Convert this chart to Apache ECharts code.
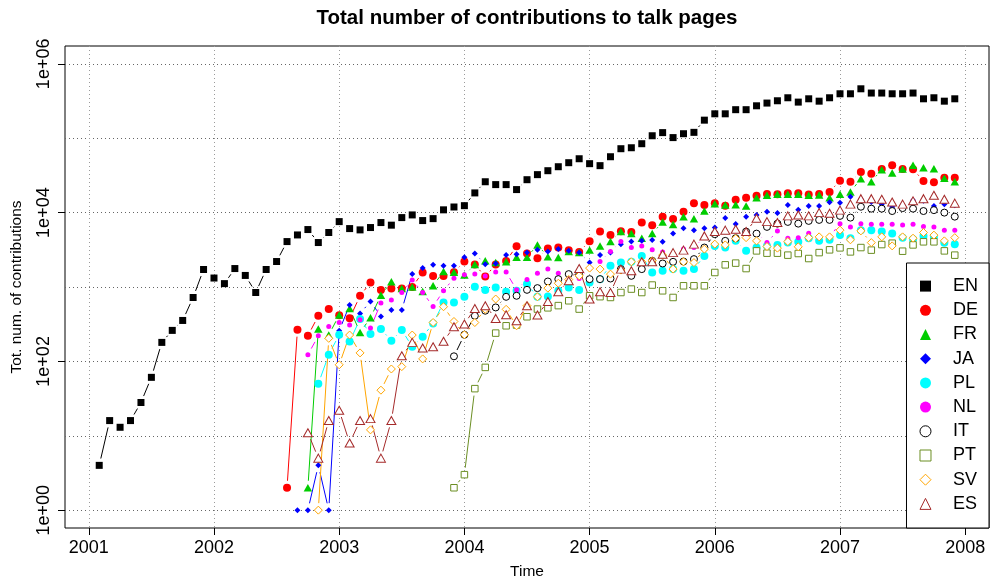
<!DOCTYPE html>
<html>
<head>
<meta charset="utf-8">
<script src="https://cdn.jsdelivr.net/npm/echarts@6/dist/echarts.min.js"></script>
<style>
  html, body { margin: 0; padding: 0; background: #fff; }
  #chart { width: 990px; height: 584px; }
</style>
</head>
<body>
<div id="chart"></div>
<script>
// tick positions
const yearTicks = [2001, 2002, 2003, 2004, 2005, 2006, 2007, 2008]
const decadeTicks = [1, 10, 100, 1e3, 1e4, 1e5, 1e6]
const labelTicks = [1, 100, 1e4, 1e6]

// one entry per language, in plotting order
const languages = ['EN', 'DE', 'FR', 'JA', 'PL', 'NL', 'IT', 'PT', 'SV', 'ES']
const startMonths = ['2001-02', '2002-08', '2002-10', '2002-09', '2002-11', '2002-10', '2003-12', '2003-12', '2002-11', '2002-10']

// monthly totals
const enValues = [4, 16, 13, 16, 28, 61, 180, 261, 355, 723,
  1720, 1320, 1110, 1770, 1430, 844, 1720, 2200, 4080, 5010,
  5920, 3960, 5400, 7570, 6100, 5860, 6300, 7350, 6780, 8570,
  9310, 7820, 8300, 10900, 11900, 12400, 18400, 26000, 23800, 23800,
  20400, 27700, 32400, 36600, 41400, 46900, 53000, 45500, 42800, 56400,
  72300, 74500, 84400, 108000, 119000, 102000, 115000, 120000, 175000, 213000,
  213000, 242000, 242000, 273000, 297000, 319000, 350000, 306000, 339000, 315000,
  350000, 396000, 396000, 462000, 405000, 405000, 396000, 396000, 405000, 339000,
  350000, 315000, 339000]
const deValues = [2, 267, 221, 410, 505, 417, 380, 760, 1150, 912,
  955, 955, 1000, 1570, 1410, 1410, 1580, 2200, 2000, 1380,
  2000, 2240, 3540, 2820, 2440, 3290, 3390, 3130, 2960, 4130,
  5560, 5010, 5620, 5500, 7350, 6780, 8830, 8220, 10300, 13400,
  12700, 13400, 12400, 14900, 15900, 16900, 17800, 17700, 18200, 18200,
  17500, 17800, 19000, 26900, 26100, 35200, 33400, 38600, 43300, 38600,
  38200, 26700, 25600, 29500, 29500]
const frValues = [2, 272, 226, 420, 514, 245, 385, 776, 1175, 955,
  1000, 871, 1040, 1620, 1580, 1445, 2000, 2250, 2140, 2180,
  2510, 2520, 3680, 2560, 2490, 3000, 2900, 3150, 3550, 4080,
  5560, 5220, 4530, 5220, 7500, 6900, 8830, 8300, 10500, 13200,
  12700, 12800, 12300, 15900, 17100, 17700, 17700, 17700, 17100, 17300,
  15900, 17700, 19000, 28600, 26100, 37800, 34100, 38600, 43300, 40200,
  39000, 29000, 26100]
const jaValues = [1, 1, 4, 1, 258, 571, 441, 638, 402, 490,
  490, 1490, 1795, 1990, 1930, 1930, 2510, 2820, 2030, 2070,
  2700, 2760, 2900, 3160, 3000, 3230, 3060, 2900, 2130, 2700,
  2900, 3770, 4080, 4170, 4270, 4050, 5220, 6170, 5810, 6170,
  6310, 8490, 7050, 8830, 9310, 10300, 9910, 12700, 10900, 12300,
  12300, 13800, 13600, 16400, 15100, 13900, 13000, 11900, 12600, 14700,
  14400, 12300, 13000, 12600]
const plValues = [50, 123, 228, 185, 371, 233, 272, 190, 264, 157,
  215, 324, 619, 619, 738, 1007, 908, 984, 863, 889,
  1094, 738, 745, 889, 984, 908, 1148, 1276, 1930, 2130,
  2180, 2620, 1570, 1650, 1740, 1650, 1740, 2620, 3570, 3390,
  4170, 3060, 3390, 3570, 3680, 3950, 4050, 4530, 4170, 4310,
  5010, 4530, 5810, 5810, 5560, 5220, 4610, 4400, 4860, 4720,
  3920, 3770]
const nlValues = [123, 221, 295, 333, 309, 363, 281, 608, 667, 843,
  1240, 843, 547, 891, 1315, 1460, 1490, 1410, 1585, 1585,
  916, 1260, 1535, 1740, 1535, 1343, 1300, 1780, 2200, 3000,
  4080, 3390, 3570, 3160, 2960, 2760, 3230, 3390, 4720, 5400,
  4170, 5680, 5220, 5370, 3950, 5680, 4530, 4610, 5280, 4610,
  4760, 7110, 6430, 7110, 6980, 6980, 6980, 6840, 6980, 6490,
  6430, 5810, 5810]
const itValues = [117, 228, 410, 480, 531, 738, 762, 916, 966, 1186,
  1276, 1490, 1460, 1276, 1276, 1300, 1740, 1413, 1740, 2250,
  2070, 2180, 2200, 2370, 3390, 5130, 4170, 4530, 5560, 5220,
  6430, 7110, 7500, 7110, 7740, 7980, 7980, 9040, 8570, 12000,
  11300, 11300, 10500, 11500, 11300, 10500, 10800, 10000, 8830]
const ptValues = [2, 3, 43, 83, 240, 301, 308, 398, 505, 525,
  562, 653, 505, 762, 741, 723, 843, 938, 843, 1062,
  889, 723, 1038, 1038, 1038, 1567, 1986, 2094, 1770, 3060,
  2850, 2850, 2680, 2820, 2415, 2900, 3160, 3360, 2965, 3390,
  3130, 3720, 3880, 3030, 3680, 4050, 4050, 3060, 2680]
const svValues = [1, 204, 90, 226, 130, 12, 41, 79, 85, 226,
  108, 333, 543, 344, 228, 333, 501, 689, 501, 301,
  560, 738, 966, 1122, 1260, 1413, 1795, 1740, 1490, 1690,
  2180, 2180, 2250, 2680, 1740, 2180, 2130, 3230, 3770, 3680,
  4480, 4610, 4170, 3500, 3330, 4080, 3470, 4610, 4720, 4720,
  5810, 4310, 5680, 3950, 4720, 3570, 4720, 4530, 5400, 4980,
  4170, 4610]
const esValues = [11, 5, 16, 22, 8, 16, 17, 5, 16, 119,
  180, 151, 157, 186, 292, 318, 514, 560, 378, 424,
  352, 560, 420, 638, 863, 1211, 1770, 689, 863, 843,
  1740, 1650, 2180, 2180, 2760, 2900, 3130, 3770, 4860, 5560,
  5810, 5980, 5560, 8410, 7570, 7350, 9040, 9310, 9040, 10000,
  9820, 10800, 13000, 15400, 15400, 15100, 13900, 13000, 14400, 15400,
  17100, 15100, 13400]

const allValues = [enValues, deValues, frValues, jaValues, plValues, nlValues, itValues, ptValues, svValues, esValues]

// marker styles (R-like pch)
const colors = ['#000000', '#ff0000', '#00cd00', '#0000ff', '#00ffff', '#ff00ff', '#000000', '#6b8e23', '#ffa500', '#a52a2a']
const symbols = ['rect', 'circle', 'triangle', 'diamond', 'circle', 'circle', 'circle', 'rect', 'diamond', 'triangle']
const symbolSizes = [7, 8, [8.5, 7.5], 6, 8, 5, 7, 6.5, 8, [9, 8]]
const hollow = [false, false, false, false, false, false, true, true, true, true]

// type="b": connecting lines stop this many px short of each point
const pointGap = 7

const font = 'Liberation Sans, Arial, Helvetica, sans-serif'

function toPoints(start, values) {
  const [y, m] = start.split('-').map(Number)
  return values.map((v, i) => [y + (m - 1 + i) / 12, v])
}

function toPairs(points) {
  return points.slice(1).map((p, i) => [points[i][0], points[i][1], p[0], p[1]])
}

function markerStyle(i) {
  return hollow[i]
    ? { color: '#fff', borderColor: colors[i], borderWidth: 1, opacity: 1 }
    : { color: colors[i], opacity: 1 }
}

function segmentRenderer(color) {
  return function (params, api) {
    const a = api.coord([api.value(0), api.value(1)])
    const b = api.coord([api.value(2), api.value(3)])
    const dx = b[0] - a[0]
    const dy = b[1] - a[1]
    const len = Math.hypot(dx, dy)
    if (len <= 2 * pointGap) return null
    const k = pointGap / len
    return {
      type: 'line',
      silent: true,
      shape: { x1: a[0] + k * dx, y1: a[1] + k * dy, x2: b[0] - k * dx, y2: b[1] - k * dy },
      style: { stroke: color, lineWidth: 1 }
    }
  }
}

const chart = echarts.init(document.getElementById('chart'))

const series = []
languages.forEach((name, i) => {
  const points = toPoints(startMonths[i], allValues[i])
  series.push({
    name: name + ' line',
    type: 'custom',
    data: toPairs(points),
    encode: { x: [0, 2], y: [1, 3] },
    renderItem: segmentRenderer(colors[i]),
    silent: true,
    animation: false
  })
  series.push({
    name,
    type: 'scatter',
    data: points,
    symbol: symbols[i],
    symbolSize: symbolSizes[i],
    itemStyle: markerStyle(i),
    emphasis: { disabled: true },
    animation: false
  })
})

chart.setOption({
  animation: false,
  textStyle: { fontFamily: font },
  title: {
    text: 'Total number of contributions to talk pages',
    left: 527,
    top: 8,
    padding: 0,
    textAlign: 'center',
    textStyle: { fontSize: 20.5, fontWeight: 'bold', color: '#000', fontFamily: font }
  },
  grid: {
    left: 65,
    right: 1,
    top: 46,
    bottom: 56,
    show: true,
    borderColor: '#000',
    borderWidth: 1,
    outerBoundsMode: 'none'
  },
  legend: {
    orient: 'vertical',
    right: 1,
    bottom: 56,
    data: languages.map((name, i) => ({ name, icon: symbols[i], itemStyle: markerStyle(i) })),
    itemWidth: 11,
    itemHeight: 11,
    itemGap: 0,
    padding: [11, 11, 12, 13],
    borderColor: '#000',
    borderWidth: 1,
    borderRadius: 0,
    backgroundColor: '#fff',
    selectedMode: false,
    textStyle: { fontSize: 18, color: '#000', lineHeight: 24.2, padding: [0, 0, 0, 17], fontFamily: font }
  },
  xAxis: {
    type: 'value',
    min: 2000.81,
    max: 2008.19,
    name: 'Time',
    nameLocation: 'middle',
    nameGap: 36,
    nameTextStyle: { fontSize: 15.5, color: '#000', fontFamily: font },
    axisLine: { show: false },
    axisTick: { show: true, length: 7, customValues: yearTicks, lineStyle: { color: '#000' } },
    axisLabel: { customValues: yearTicks, fontSize: 18, color: '#000', margin: 11, formatter: v => String(v) },
    splitLine: { show: true, lineStyle: { type: [1, 3], color: '#9a9a9a', width: 1 } }
  },
  yAxis: [
    {
      type: 'log',
      logBase: 10,
      min: 0.5754,
      max: 1737800,
      name: 'Tot. num. of contributions',
      nameLocation: 'middle',
      nameGap: 40,
      nameTextStyle: { fontSize: 15.5, color: '#000', fontFamily: font },
      axisLine: { show: false },
      axisTick: { show: true, length: 7, customValues: labelTicks, lineStyle: { color: '#000' } },
      axisLabel: {
        customValues: labelTicks,
        rotate: 90,
        margin: 12,
        fontSize: 18,
        color: '#000',
        formatter: v => '1e+' + String(Math.round(Math.log10(v))).padStart(2, '0')
      },
      splitLine: { show: false }
    },
    {
      type: 'log',
      logBase: 10,
      min: 0.5754,
      max: 1737800,
      axisLine: { show: false },
      axisTick: { show: false, customValues: decadeTicks },
      axisLabel: { show: false, customValues: decadeTicks },
      splitLine: { show: true, lineStyle: { type: [1, 3], color: '#666', width: 1 } }
    }
  ],
  series
})
</script>
</body>
</html>
